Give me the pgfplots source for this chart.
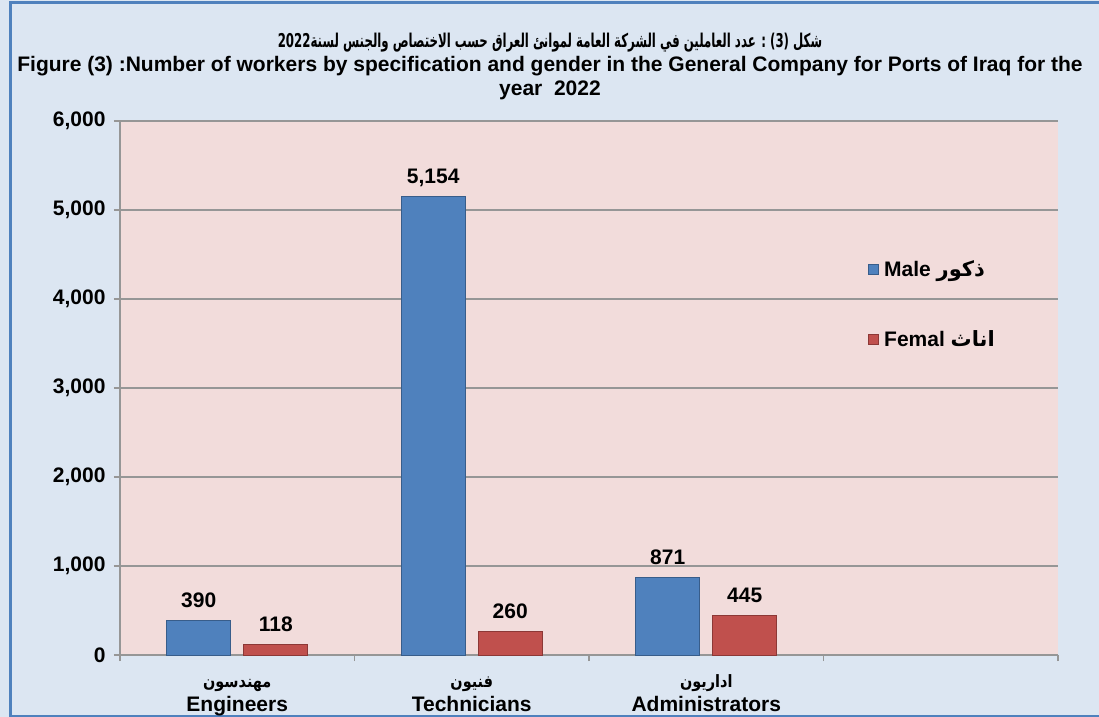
\documentclass[border=0pt]{standalone}
\usepackage{pgfplots}
\pgfplotsset{compat=1.18}
\usepackage{graphicx}
\usepackage{fontspec}
\setmainfont{Liberation Sans}
\newfontfamily\arabicfont[Script=Arabic]{DejaVu Sans}
\TeXXeTstate=1
\definecolor{bgblue}{RGB}{220,230,242}
\definecolor{plotpink}{RGB}{242,220,219}
\definecolor{barblue}{RGB}{79,129,189}
\definecolor{barblueedge}{RGB}{56,93,138}
\definecolor{barred}{RGB}{192,80,77}
\definecolor{barrededge}{RGB}{140,56,54}
\definecolor{frameblue}{RGB}{79,129,189}
\definecolor{gridgray}{RGB}{150,150,150}
\newcommand{\ar}[1]{\mbox{\arabicfont\beginR #1\endR}}
\newcommand{\bigf}{\bfseries\fontsize{21bp}{24bp}\selectfont}
\newcommand{\arf}{\bfseries\fontsize{17bp}{24bp}\selectfont}
\newcommand{\arl}[1]{{\arf\rule{0pt}{13bp}\smash{\scalebox{0.85}[1]{\ar{#1}}}}}

\pgfplotstableread{
x male female
0 390 118
1 5154 260
2 871 445
}\datatable

\begin{document}
\begin{tikzpicture}
\useasboundingbox (-120bp,-62bp) rectangle (979bp,655bp);
\fill[bgblue] (-120bp,-62bp) rectangle (979bp,655bp);
\draw[frameblue, line width=3bp] (985bp,-61.5bp) -- (-109.5bp,-61.5bp) -- (-109.5bp,652bp) -- (985bp,652bp);
\begin{axis}[
  scale only axis,
  width=938bp, height=534bp,
  axis background/.style={fill=plotpink},
  xmin=-0.5, xmax=3.5,
  ymin=0, ymax=6000,
  ybar=13bp, bar width=64bp,
  axis lines*=left,
  axis line style={draw=gridgray, line width=1.3bp},
  tick align=outside,
  major tick length=6bp,
  tick style={draw=gridgray, line width=1.3bp},
  xtick={-0.5,0.5,1.5,2.5,3.5},
  xticklabels={},
  extra x ticks={0,1,2},
  extra x tick labels={
    {\arl{مهندسون}\\{\bigf Engineers}},
    {\arl{فنيون}\\{\bigf Technicians}},
    {\arl{اداريون}\\{\bigf Administrators}}},
  extra x tick style={major tick length=0pt, xticklabel style={font=\bigf, align=center, anchor=north, yshift=-15.5bp}},
  ytick={0,1000,2000,3000,4000,5000,6000},
  ymajorgrids,
  grid style={draw=gridgray, line width=1.3bp},
  yticklabel style={font=\bigf, /pgf/number format/assume math mode=true, /pgf/number format/1000 sep={,}, xshift=-5bp},
  nodes near coords,
  nodes near coords style={font=\bigf, anchor=base, yshift=13bp, inner sep=0pt, text=black,
    /pgf/number format/assume math mode=true, /pgf/number format/1000 sep={,}},
  legend cell align=left,
  legend style={at={(0.797,0.742)}, anchor=north west, draw=none, fill=none, font=\bigf,
    row sep=48bp, inner sep=0pt, column sep=0pt},
  legend image code/.code={\draw[#1, line width=0.8bp] (0bp,-5bp) rectangle (10bp,5bp); \path[draw=none, fill=none] (0bp,0bp) (14bp,0bp);},
  clip=false,
]
\addplot[fill=barblue, draw=barblueedge, line width=0.8bp] table[x=x, y=male] {\datatable};
\addlegendentry{Male \ar{ذكور}}
\addplot[fill=barred, draw=barrededge, line width=0.8bp] table[x=x, y=female] {\datatable};
\addlegendentry{Femal \ar{اناث}}
\end{axis}
\node[font=\bfseries\fontsize{19bp}{24bp}\selectfont, inner sep=0pt] at (430bp,612bp) {\scalebox{0.62}[1]{\ar{شكل \beginL(3)\endL{} : عدد العاملين في الشركة العامة لموانئ العراق حسب الاختصاص والجنس لسنة\beginL2022\endL}}};
\node[font=\bigf, inner sep=0pt] at (430bp,589bp) {Figure (3) :Number of workers by specification and gender in the General Company for Ports of Iraq for the};
\node[font=\bigf, inner sep=0pt] at (430bp,565bp) {year\ \ 2022};
\end{tikzpicture}
\end{document}
